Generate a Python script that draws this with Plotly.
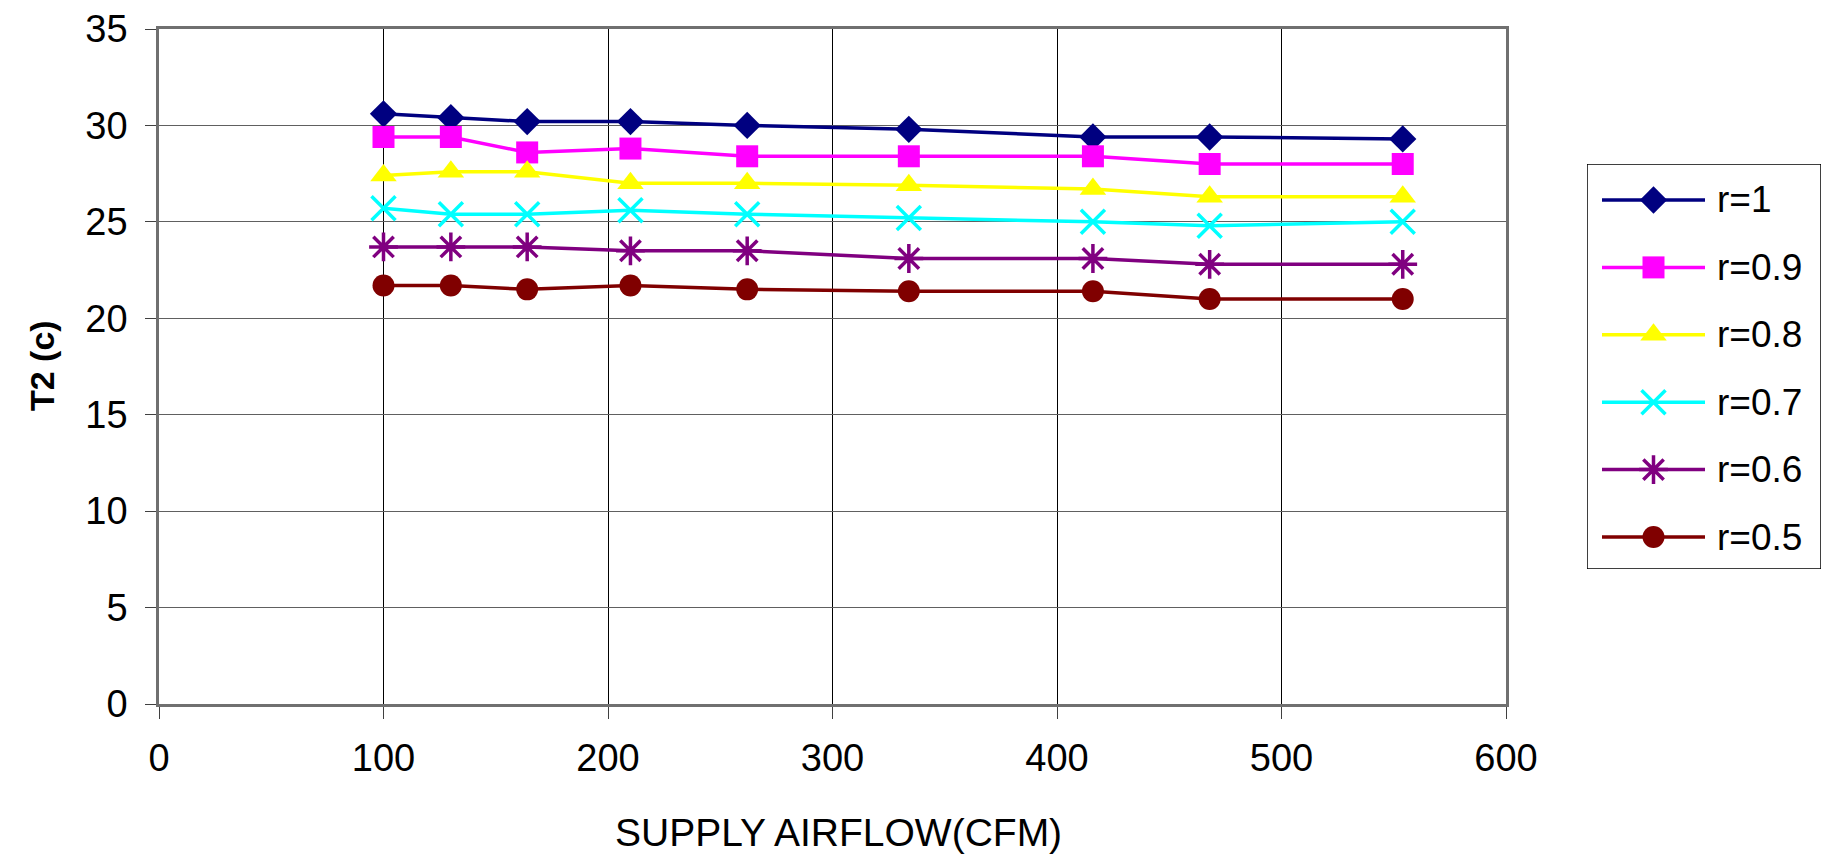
import plotly.graph_objects as go

# ---- data ----
airflow = [100, 130, 164, 210, 262, 334, 416, 468, 554]
r_1 = [30.6, 30.4, 30.2, 30.2, 30.0, 29.8, 29.4, 29.4, 29.3]
r_09 = [29.4, 29.4, 28.6, 28.8, 28.4, 28.4, 28.4, 28.0, 28.0]
r_08 = [27.4, 27.6, 27.6, 27.0, 27.0, 26.9, 26.7, 26.3, 26.3]
r_07 = [25.7, 25.4, 25.4, 25.6, 25.4, 25.2, 25.0, 24.8, 25.0]
r_06 = [23.7, 23.7, 23.7, 23.5, 23.5, 23.1, 23.1, 22.8, 22.8]
r_05 = [21.7, 21.7, 21.5, 21.7, 21.5, 21.4, 21.4, 21.0, 21.0]
series_names = ["r=1", "r=0.9", "r=0.8", "r=0.7", "r=0.6", "r=0.5"]
x_ticks = [0, 100, 200, 300, 400, 500, 600]
y_ticks = [0, 5, 10, 15, 20, 25, 30, 35]

# ---- styles ----
series_values = [r_1, r_09, r_08, r_07, r_06, r_05]
colors = ["#000080", "#FF00FF", "#FFFF00", "#00FFFF", "#800080", "#800000"]
symbols = ["diamond", "square", "triangle-up", "x-thin-open", "asterisk-open", "circle"]
sizes = [21, 22, 23, 24, 24, 22]

FONT = "Liberation Sans, Arial, sans-serif"
W, H = 1824, 855
L, T = 159, 29
PLOT_R, PLOT_B = 1506, 704
usable_w = W - L
plot_h = PLOT_B - T

def xp(px):
    return (px - L) / usable_w

def yp(py):
    return (PLOT_B - py) / plot_h

fig = go.Figure()

for vals, name, c, sym, sz in zip(series_values, series_names, colors, symbols, sizes):
    open_sym = sym.endswith("open")
    fig.add_trace(go.Scatter(
        x=airflow, y=vals, name=name, mode="lines+markers",
        line=dict(color=c, width=3.5),
        marker=dict(symbol=sym, size=sz, color=c, opacity=1,
                    line=dict(color=c, width=3.5 if open_sym else 0)),
        showlegend=False, xaxis="x", yaxis="y",
    ))

# ---- custom legend (in its own pixel-scaled axes) ----
LEG_L, LEG_R, LEG_T, LEG_B = 1587, 1821, 164, 569
row0, row_step = 200, 67.4
line_x0, line_x1 = 1602, 1705
for i, (name, c, sym, sz) in enumerate(zip(series_names, colors, symbols, sizes)):
    yy = row0 + i * row_step
    open_sym = sym.endswith("open")
    fig.add_trace(go.Scatter(
        x=[line_x0, line_x1], y=[yy, yy], mode="lines",
        line=dict(color=c, width=3.5),
        showlegend=False, hoverinfo="skip", xaxis="x2", yaxis="y2",
    ))
    fig.add_trace(go.Scatter(
        x=[(line_x0 + line_x1) / 2], y=[yy], mode="markers",
        marker=dict(symbol=sym, size=sz, color=c, opacity=1,
                    line=dict(color=c, width=3.5 if open_sym else 0)),
        showlegend=False, hoverinfo="skip", xaxis="x2", yaxis="y2",
    ))
    fig.add_annotation(x=1715, y=yy, xref="x2", yref="y2", text=name,
                       showarrow=False, xanchor="left", yanchor="middle",
                       font=dict(family=FONT, size=37, color="black"))

fig.add_shape(type="rect", xref="x2", yref="y2",
              x0=LEG_L, x1=LEG_R, y0=LEG_T, y1=LEG_B,
              line=dict(color="black", width=1.5), fillcolor="rgba(0,0,0,0)")

# ---- axis titles ----
fig.add_annotation(x=xp(838), y=yp(832), xref="paper", yref="paper",
                   text="SUPPLY AIRFLOW(CFM)", showarrow=False,
                   xanchor="center", yanchor="middle",
                   font=dict(family=FONT, size=39, color="black"))
fig.add_annotation(x=xp(42), y=yp(366), xref="paper", yref="paper",
                   text="<b>T2 (c)</b>", showarrow=False, textangle=-90,
                   xanchor="center", yanchor="middle",
                   font=dict(family=FONT, size=34, color="black"))

fig.update_layout(
    width=W, height=H,
    margin=dict(l=L, r=0, t=T, b=H - PLOT_B, pad=0, autoexpand=False),
    paper_bgcolor="white", plot_bgcolor="white",
    font=dict(family=FONT, size=38, color="black"),
    xaxis=dict(
        domain=[0, xp(PLOT_R)], range=[0, 600], tickvals=x_ticks,
        showgrid=True, gridcolor="#000000", gridwidth=1,
        showline=True, linecolor="#707070", linewidth=2.5, mirror=True,
        ticks="outside", ticklen=12, tickcolor="#404040", tickwidth=1,
        ticklabelstandoff=7, zeroline=False, automargin=False,
        tickfont=dict(family=FONT, size=38, color="black"),
    ),
    yaxis=dict(
        domain=[0, 1], range=[0, 35], tickvals=y_ticks,
        showgrid=True, gridcolor="#606060", gridwidth=1.2,
        showline=True, linecolor="#707070", linewidth=2.5, mirror=True,
        ticks="outside", ticklen=11, tickcolor="#404040", tickwidth=1,
        ticklabelstandoff=10, zeroline=False, automargin=False,
        tickfont=dict(family=FONT, size=38, color="black"),
    ),
    xaxis2=dict(domain=[xp(LEG_L), xp(LEG_R)], range=[LEG_L, LEG_R],
                visible=False, anchor="y2", fixedrange=True, automargin=False),
    yaxis2=dict(domain=[yp(LEG_B), yp(LEG_T)], range=[LEG_B, LEG_T],
                visible=False, anchor="x2", fixedrange=True, automargin=False),
)

fig.write_html("out.html")
